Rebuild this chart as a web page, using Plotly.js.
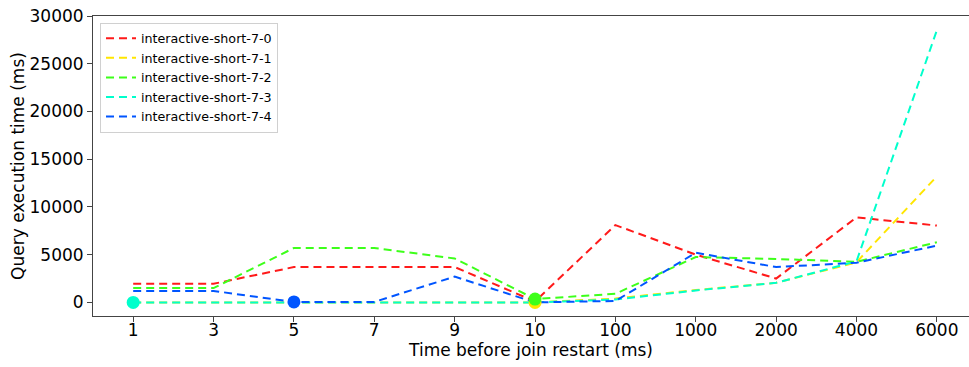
<!DOCTYPE html>
<html>
<head>
<meta charset="utf-8">
<script src="https://cdn.plot.ly/plotly-3.0.1.min.js"></script>
<style>html,body{margin:0;padding:0;background:#fff;}#chart{width:969px;height:367px;}</style>
</head>
<body>
<div id="chart"></div>
<script>
const categories = ['1','3','5','7','9','10','100','1000','2000','4000','6000'];
const seriesNames = ['interactive-short-7-0','interactive-short-7-1','interactive-short-7-2','interactive-short-7-3','interactive-short-7-4'];
const s70 = [1950, 1950, 3700, 3700, 3700, 100, 8100, 5000, 2500, 8900, 8050];
const s71 = [0, 0, 0, 0, 0, 0, 400, 1300, 2050, 4200, 13200];
const s72 = [1500, 1500, 5700, 5700, 4600, 350, 900, 4750, 4550, 4250, 6300];
const s73 = [0, 0, 0, 0, 50, 0, 300, 1250, 2050, 4300, 28500];
const s74 = [1200, 1200, 50, 50, 2700, 0, 150, 5200, 3700, 4150, 5950];
const seriesValues = [s70, s71, s72, s73, s74];
const colors = ['#ff1a1a', '#ffe600', '#3dff1a', '#00ffcc', '#0055ff'];
// highlighted points: [series index, category]
const highlightSeries = [3, 4, 1, 2];
const highlightCats = ['1', '5', '10', '10'];

const traces = seriesNames.map((name, i) => ({
  type: 'scatter', mode: 'lines', name: name,
  x: categories, y: seriesValues[i],
  line: {color: colors[i], width: 2, dash: '8px,5px'}
}));
highlightSeries.forEach((si, k) => {
  const idx = categories.indexOf(highlightCats[k]);
  traces.push({
    type: 'scatter', mode: 'markers', showlegend: false,
    x: [highlightCats[k]], y: [seriesValues[si][idx]],
    marker: {color: colors[si], size: 13}
  });
});

const font = {family: 'DejaVu Sans, sans-serif', color: '#000'};
const layout = {
  width: 969, height: 367,
  margin: {l: 93, r: 0, t: 16, b: 51},
  paper_bgcolor: '#fff', plot_bgcolor: '#fff',
  showlegend: true,
  legend: {
    x: 0.008, y: 0.978, xanchor: 'left', yanchor: 'top',
    bgcolor: 'rgba(255,255,255,0.8)', bordercolor: '#d0d0d0', borderwidth: 1,
    font: Object.assign({}, font, {size: 12.7}), itemwidth: 30, tracegroupgap: 0
  },
  xaxis: {
    type: 'category', range: [-0.5, 10.4],
    showgrid: false, zeroline: false,
    showline: true, linecolor: '#444', linewidth: 1, mirror: true,
    ticks: 'outside', ticklen: 5, tickcolor: '#444', ticklabelstandoff: -6,
    tickfont: Object.assign({}, font, {size: 17}),
    title: {text: 'Time before join restart (ms)', font: Object.assign({}, font, {size: 17}), standoff: 2}
  },
  yaxis: {
    range: [-1425, 30000],
    tickvals: [0, 5000, 10000, 15000, 20000, 25000, 30000],
    tickformat: 'd',
    showgrid: false, zeroline: false,
    showline: true, linecolor: '#444', linewidth: 1,
    ticks: 'outside', ticklen: 5, tickcolor: '#444',
    tickfont: Object.assign({}, font, {size: 17}),
    title: {text: 'Query execution time (ms)', font: Object.assign({}, font, {size: 17}), standoff: 0}
  }
};
Plotly.newPlot('chart', traces, layout, {displayModeBar: false, staticPlot: true});
</script>
</body>
</html>
